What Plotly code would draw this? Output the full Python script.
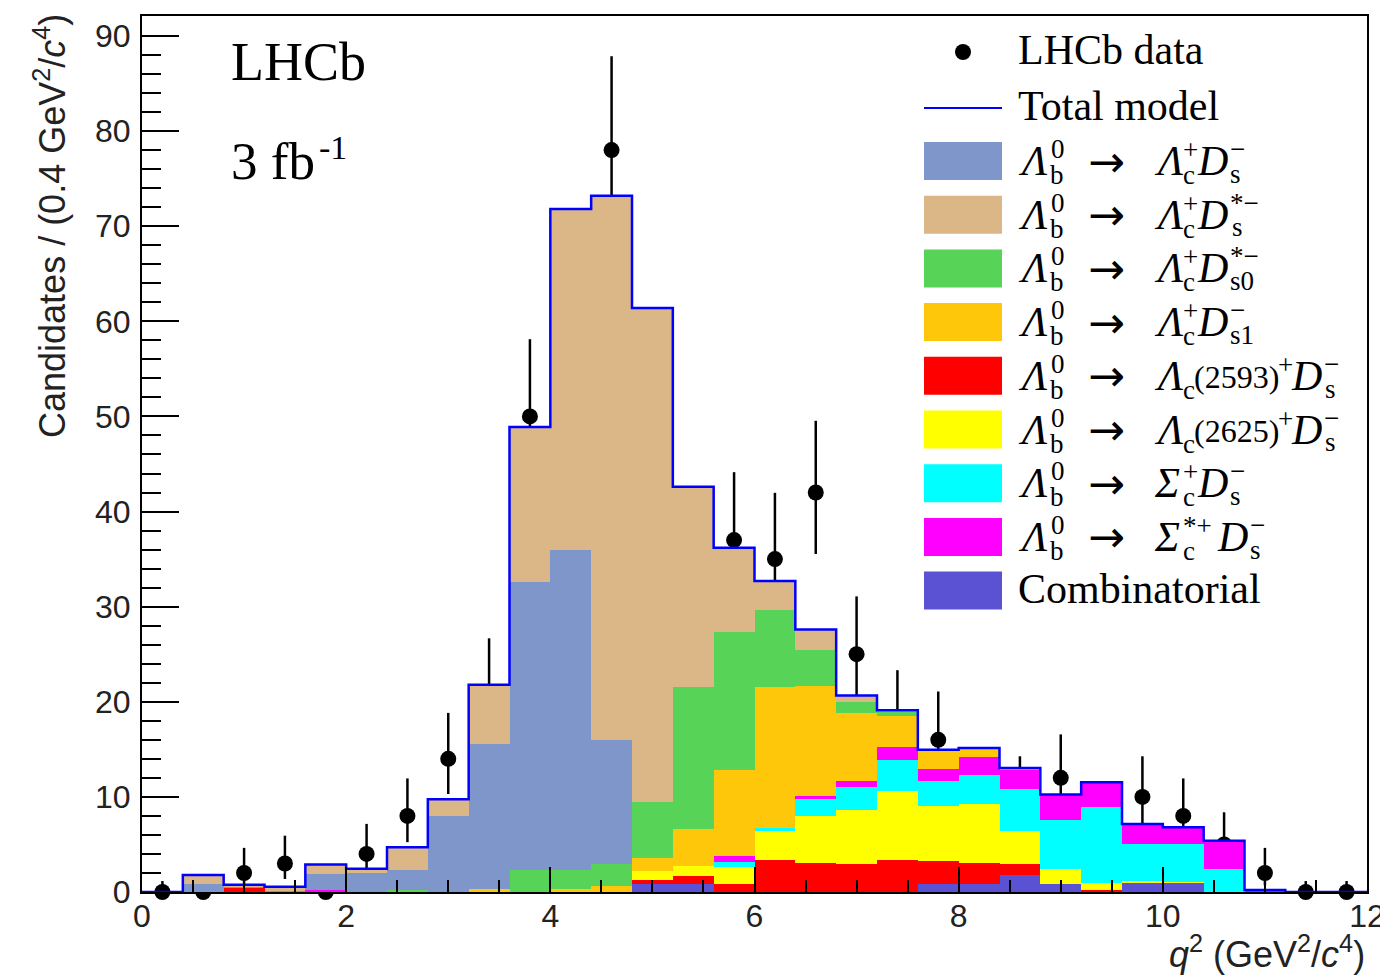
import plotly.graph_objects as go

# ---------------- data ----------------
bin_edges = [round(0.4 * i, 1) for i in range(31)]
bin_centers = [round(0.2 + 0.4 * i, 1) for i in range(30)]

data_counts = [0, 0, 2, 3, 0, 4, 8, 14, 21, 50, 62, 78, 52, 35, 37, 35, 42, 25, 18, 16,
               10, 10, 12, 7, 10, 8, 5, 2, 0, 0]
data_err_hi = [1.15, 1.15, 2.64, 2.92, 1.15, 3.16, 3.94, 4.83, 5.67, 8.12, 8.93, 9.87, 8.26, 6.97,
               7.14, 6.97, 7.54, 6.08, 5.32, 5.08, 4.27, 4.27, 4.57, 3.77, 4.27, 3.94, 3.38, 2.64,
               1.15, 1.15]
data_err_lo = [0, 0, 1.29, 1.63, 0, 1.91, 2.76, 3.70, 4.56, 7.05, 7.86, 8.81, 7.19, 5.89, 6.06,
               5.89, 6.46, 4.97, 4.21, 3.96, 3.11, 3.11, 3.41, 2.58, 3.11, 2.76, 2.16, 1.29, 0, 0]

comb = [0, 0, 0, 0, 0, 0, 0, 0, 0, 0, 0, 0, 0.8, 0.8, 0, 0, 0, 0, 0, 0.8,
        0.85, 1.8, 0.85, 0, 1.0, 1.0, 0, 0, 0, 0]
lc2593 = [0, 0, 0.45, 0, 0, 0, 0, 0, 0, 0, 0, 0, 0.5, 0.9, 0.8, 3.4, 3.1, 2.9, 3.35, 2.45,
          2.15, 1.15, 0, 0.2, 0, 0, 0, 0, 0, 0]
lc2625 = [0, 0, 0, 0, 0, 0, 0, 0, 0, 0, 0, 0, 0.95, 1.05, 1.85, 3.05, 4.9, 5.7, 7.3, 5.8,
          6.3, 3.5, 1.6, 0.75, 0.15, 0.1, 0, 0, 0, 0]
sigc = [0, 0, 0, 0, 0, 0, 0, 0, 0, 0, 0, 0, 0, 0, 0.5, 0.25, 1.75, 2.45, 3.2, 2.65,
        3.0, 4.4, 5.1, 7.95, 3.85, 3.9, 2.4, 0.1, 0, 0]
sigcst = [0, 0, 0, 0, 0.2, 0, 0, 0, 0, 0, 0, 0, 0, 0, 0.65, 0, 0.35, 0.65, 1.35, 1.25,
          1.85, 2.0, 2.7, 2.65, 2.15, 1.8, 3.0, 0.1, 0, 0]
ds1 = [0, 0, 0, 0, 0, 0, 0, 0, 0.3, 0, 0.3, 0.6, 1.35, 3.9, 9.0, 14.9, 11.55, 7.1, 3.3, 2.0,
       1.0, 0.2, 0, 0, 0, 0, 0, 0, 0, 0]
ds0st = [0, 0, 0, 0, 0, 0, 0.25, 0, 0, 2.3, 2.0, 2.3, 5.85, 14.9, 14.5, 8.1, 3.8, 1.15, 0.5, 0,
         0, 0, 0, 0, 0, 0, 0, 0, 0, 0]
ds = [0, 0.8, 0.1, 0.15, 1.7, 2.05, 2.1, 8.0, 15.3, 30.3, 33.7, 13.1, 0, 0, 0, 0, 0, 0, 0, 0,
      0, 0, 0, 0, 0, 0, 0, 0, 0, 0]
dsst = [0, 1.0, 0.2, 0.4, 1.0, 0.4, 2.35, 1.75, 6.2, 16.3, 35.8, 57.2, 51.95, 21.05, 8.9, 3.0,
        2.15, 0.7, 0.1, 0, 0, 0, 0, 0, 0, 0, 0, 0, 0, 0]

# stacking order bottom -> top
components = [
    ("Combinatorial", comb, "#5a52d2"),
    ("Λb0 → Λc(2593)+ Ds−", lc2593, "#ff0000"),
    ("Λb0 → Λc(2625)+ Ds−", lc2625, "#ffff00"),
    ("Λb0 → Σc+ Ds−", sigc, "#00ffff"),
    ("Λb0 → Σc*+ Ds−", sigcst, "#ff00ff"),
    ("Λb0 → Λc+ Ds1−", ds1, "#ffc70a"),
    ("Λb0 → Λc+ Ds0*−", ds0st, "#57d457"),
    ("Λb0 → Λc+ Ds−", ds, "#7f96cb"),
    ("Λb0 → Λc+ Ds*−", dsst, "#dbb787"),
]

total_model = [sum(c[1][i] for c in components) for i in range(30)]

# ---------------- figure ----------------
fig = go.Figure()

# data (on main axes, drawn underneath the stacked model)
fig.add_trace(go.Scatter(
    x=bin_centers, y=data_counts, mode="markers", name="LHCb data",
    marker=dict(color="black", size=16),
    error_y=dict(type="data", symmetric=False, array=data_err_hi, arrayminus=data_err_lo,
                 color="black", thickness=2.5, width=0),
    cliponaxis=False, showlegend=False, yaxis="y"))

for name, vals, col in components:
    fig.add_trace(go.Bar(x=bin_centers, y=vals, width=0.4, name=name,
                         marker=dict(color=col, line=dict(width=0)),
                         showlegend=False, yaxis="y2"))

fig.add_trace(go.Scatter(
    x=bin_edges, y=total_model + [total_model[-1]], mode="lines", line_shape="hv",
    line=dict(color="#0000ff", width=2.5), name="Total model",
    showlegend=False, yaxis="y2"))

YMAX = 92.1
axis_font = dict(family="Liberation Sans", size=32, color="#222")

fig.update_layout(
    width=1380, height=976,
    margin=dict(l=142, r=13, t=16, b=84, autoexpand=False),
    paper_bgcolor="white", plot_bgcolor="white",
    barmode="stack", bargap=0, bargroupgap=0, showlegend=False,
    xaxis=dict(range=[0, 12], tickvals=[0, 2, 4, 6, 8, 10, 12], ticks="inside", ticklen=25,
               tickwidth=2, tickcolor="black", showline=True, linewidth=2, linecolor="black",
               mirror=True, showgrid=False, zeroline=False, tickfont=axis_font,
               ticklabelstandoff=-5, ticklabeloverflow="allow", automargin=False,
               minor=dict(dtick=0.5, ticks="inside", ticklen=12, tickwidth=2,
                          tickcolor="black", showgrid=False)),
    yaxis=dict(range=[0, YMAX], tickvals=[0, 10, 20, 30, 40, 50, 60, 70, 80, 90],
               ticks="inside", ticklen=37, tickwidth=2, tickcolor="black", showline=True,
               linewidth=2, linecolor="black", mirror=True, showgrid=False, zeroline=False,
               tickfont=axis_font, ticklabelstandoff=3, automargin=False,
               minor=dict(dtick=2, ticks="inside", ticklen=19, tickwidth=2,
                          tickcolor="black", showgrid=False)),
    yaxis2=dict(range=[0, YMAX], overlaying="y", visible=False, automargin=False),
)

# ---------------- text & legend (pixel helpers) ----------------
def px(x):
    return (x - 142) / 1225.0


def py(y):
    return (892 - y) / 876.0


ann = []


def txt(s, x, y, size, family="Liberation Serif", anchor="left"):
    ann.append(dict(text=s, x=px(x), y=py(y), xref="paper", yref="paper",
                    xanchor=anchor, yanchor="middle", showarrow=False,
                    font=dict(family=family, size=size, color="black")))


# axis titles
ann.append(dict(text="Candidates / (0.4 GeV<sup>2</sup>/<i>c</i><sup>4</sup>)", textangle=-90,
                x=px(50), y=py(12), xref="paper", yref="paper", xanchor="center",
                yanchor="top", showarrow=False,
                font=dict(family="Liberation Sans", size=36, color="#222")))
ann.append(dict(text="<i>q</i><sup>2</sup> (GeV<sup>2</sup>/<i>c</i><sup>4</sup>)",
                x=1.0, y=py(952), xref="paper", yref="paper", xanchor="right",
                yanchor="middle", showarrow=False,
                font=dict(family="Liberation Sans", size=36, color="#222")))

# LHCb labels
txt("LHCb", 229, 62, 54)
txt("3 fb", 229, 161, 53)
txt("-1", 317, 147, 34)

# legend: data + total model
shapes = []
shapes.append(dict(type="circle", xref="paper", yref="paper", x0=px(955), x1=px(971),
                   y0=py(60), y1=py(44), fillcolor="black", line=dict(width=0)))
shapes.append(dict(type="line", xref="paper", yref="paper", x0=px(924), x1=px(1002),
                   y0=py(108), y1=py(108), line=dict(color="#0000ff", width=2)))
M, S = 42, 27
txt("LHCb data", 1016, 50, M)
txt("Total model", 1016, 106, M)

legend_colors = ["#7f96cb", "#dbb787", "#57d457", "#ffc70a", "#ff0000", "#ffff00",
                 "#00ffff", "#ff00ff", "#5a52d2"]
row_c = [161 + 53.7 * r for r in range(9)]
for c, col in zip(row_c, legend_colors):
    shapes.append(dict(type="rect", xref="paper", yref="paper", x0=px(924), x1=px(1002),
                       y0=py(c + 19), y1=py(c - 19), fillcolor=col, line=dict(width=0)))

suffixes = [
    [("<i>Λ</i>", 1152, 0, M), ("+", 1181, -11, S), ("c", 1181, 14, S), ("<i>D</i>", 1195, 0, M),
     ("−", 1228, -12, S), ("s", 1228, 13, S)],
    [("<i>Λ</i>", 1152, 0, M), ("+", 1181, -11, S), ("c", 1181, 14, S), ("<i>D</i>", 1195, 0, M),
     ("*−", 1228, -12, S), ("s", 1230, 12, S)],
    [("<i>Λ</i>", 1152, 0, M), ("+", 1181, -11, S), ("c", 1181, 14, S), ("<i>D</i>", 1195, 0, M),
     ("*−", 1228, -12, S), ("s0", 1228, 13, S)],
    [("<i>Λ</i>", 1152, 0, M), ("+", 1181, -11, S), ("c", 1181, 14, S), ("<i>D</i>", 1195, 0, M),
     ("−", 1228, -12, S), ("s1", 1228, 13, S)],
    [("<i>Λ</i>", 1152, 0, M), ("c", 1181, 14, S), ("(2593)", 1192, 1, 32), ("+", 1276, -11, S),
     ("<i>D</i>", 1289, 0, M), ("−", 1322, -12, S), ("s", 1323, 13, S)],
    [("<i>Λ</i>", 1152, 0, M), ("c", 1181, 14, S), ("(2625)", 1192, 1, 32), ("+", 1276, -11, S),
     ("<i>D</i>", 1289, 0, M), ("−", 1322, -12, S), ("s", 1323, 13, S)],
    [("<i>Σ</i>", 1152, 0, M), ("+", 1181, -11, S), ("c", 1181, 14, S), ("<i>D</i>", 1195, 0, M),
     ("−", 1228, -12, S), ("s", 1228, 13, S)],
    [("<i>Σ</i>", 1152, 0, M), ("*+", 1181, -11, S), ("c", 1181, 14, S), ("<i>D</i>", 1215, 0, M),
     ("−", 1248, -12, S), ("s", 1248, 13, S)],
]
for c, suf in zip(row_c[:8], suffixes):
    txt("<i>Λ</i>", 1016, c, M)
    txt("0", 1049, c - 12, S)
    txt("b", 1048, c + 14, S)
    txt("→", 1086, c, 44, family="DejaVu Sans")
    for s, x, dy, size in suf:
        txt(s, x, c + dy, size)
txt("Combinatorial", 1016, row_c[8] - 2, M)

fig.update_layout(annotations=ann, shapes=shapes)

fig.write_html("out.html", config={"displayModeBar": False},
               post_script="document.body.style.margin='0';")
